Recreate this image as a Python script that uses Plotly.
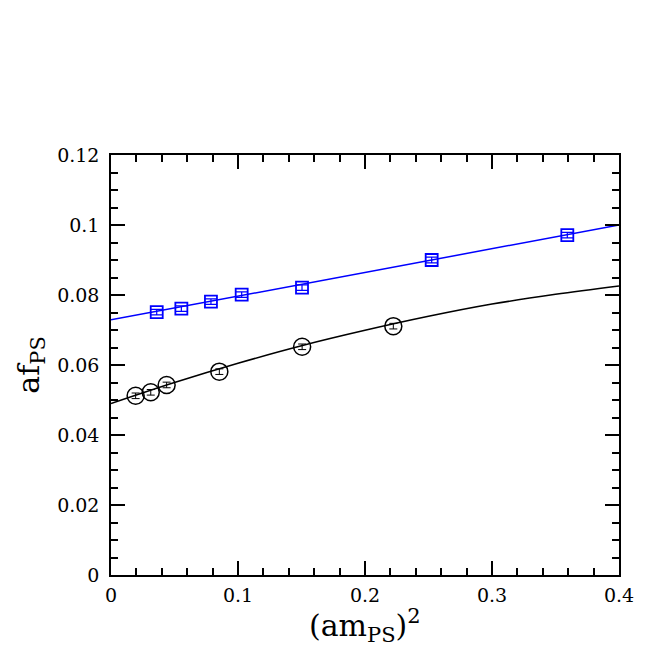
import plotly.graph_objects as go

# black circles
x_circ = [0.0194, 0.0313, 0.0438, 0.0853, 0.1505, 0.2223]
y_circ = [0.0512, 0.0522, 0.0543, 0.0581, 0.0652, 0.0711]
e_circ = [0.0008, 0.0008, 0.0008, 0.0008, 0.0008, 0.0008]

# blue squares
x_sq = [0.0360, 0.0554, 0.0787, 0.1029, 0.1504, 0.2525, 0.3593]
y_sq = [0.0751, 0.0761, 0.0781, 0.0801, 0.0821, 0.0900, 0.0971]
e_sq = [0.0008, 0.0008, 0.0008, 0.0008, 0.0008, 0.0008, 0.0008]

# fit curves
x_fit_black = [0.0, 0.05, 0.1, 0.15, 0.2, 0.25, 0.3, 0.35, 0.4]
y_fit_black = [0.0490, 0.0550, 0.0605, 0.0655, 0.0699, 0.0739, 0.0774, 0.0802, 0.0826]
x_fit_blue = [0.0, 0.4]
y_fit_blue = [0.0729, 0.1000]

fig = go.Figure()
fig.add_trace(go.Scatter(x=x_fit_black, y=y_fit_black, mode="lines",
                         line=dict(color="black", width=1.5, shape="spline"), hoverinfo="skip"))
fig.add_trace(go.Scatter(x=x_fit_blue, y=y_fit_blue, mode="lines",
                         line=dict(color="#0000ff", width=1.5), hoverinfo="skip"))
fig.add_trace(go.Scatter(x=x_circ, y=y_circ, mode="markers",
                         marker=dict(symbol="circle-open", size=17, color="black", line=dict(width=1.5)),
                         error_y=dict(type="data", array=e_circ, color="black", thickness=1, width=4)))
fig.add_trace(go.Scatter(x=x_sq, y=y_sq, mode="markers",
                         marker=dict(symbol="square-open", size=12, color="#0000ff", line=dict(width=1.8)),
                         error_y=dict(type="data", array=e_sq, color="#0000ff", thickness=1.2, width=6)))

font = dict(family="DejaVu Serif", size=19, color="black")
axis_common = dict(showline=True, linecolor="black", linewidth=1.5, mirror="allticks",
                   ticks="inside", ticklen=14, tickwidth=1.5, tickcolor="black",
                   showgrid=False, zeroline=False, tickfont=font)

fig.update_xaxes(range=[0, 0.4], tickmode="array", tickvals=[0, 0.1, 0.2, 0.3, 0.4],
                 ticktext=["0", "0.1", "0.2", "0.3", "0.4"], ticklabelstandoff=2,
                 minor=dict(ticks="inside", dtick=0.02, ticklen=7, tickwidth=1.5, tickcolor="black", showgrid=False),
                 **axis_common)
fig.update_yaxes(range=[0, 0.12], tickmode="array", tickvals=[0, 0.02, 0.04, 0.06, 0.08, 0.1, 0.12],
                 ticktext=["0", "0.02", "0.04", "0.06", "0.08", "0.1", "0.12"], ticklabelstandoff=6,
                 minor=dict(ticks="inside", dtick=0.005, ticklen=7, tickwidth=1.5, tickcolor="black", showgrid=False),
                 **axis_common)

fig.add_annotation(text="(am<sub>PS</sub>)<sup>2</sup>", xref="paper", yref="paper",
                   x=0.5, y=-0.065, yanchor="top", showarrow=False,
                   font=dict(family="DejaVu Serif", size=30, color="black"))
fig.add_annotation(text="af<sub>PS</sub>", xref="paper", yref="paper",
                   x=-0.16, y=0.5, xanchor="center", textangle=-90, showarrow=False,
                   font=dict(family="DejaVu Serif", size=30, color="black"))

fig.update_layout(width=654, height=654, showlegend=False,
                  paper_bgcolor="white", plot_bgcolor="white",
                  margin=dict(l=103, r=43, t=147, b=87))
fig.write_html("out.html")
